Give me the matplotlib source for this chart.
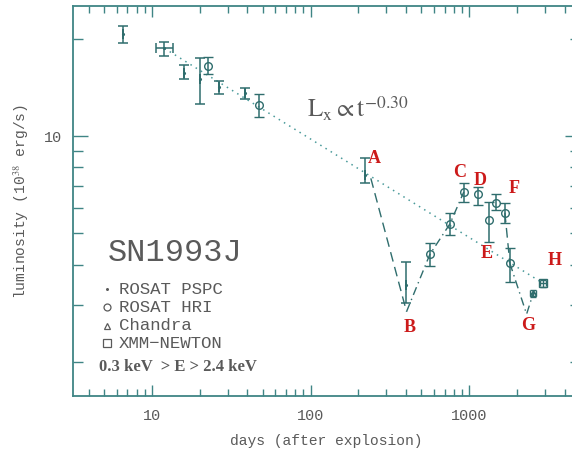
import matplotlib
matplotlib.use("Agg")
import matplotlib.pyplot as plt
from matplotlib.ticker import LogLocator, NullFormatter, FixedLocator, FixedFormatter

plt.rcParams['mathtext.fontset'] = 'stix'

# ---------------- data ----------------
# ROSAT PSPC points
pspc_days = [6.6, 12.0, 15.9, 20.0, 26.4, 38.5, 222, 401]
pspc_lum = [20.7, 18.7, 15.7, 15.0, 14.2, 13.6, 7.57, 3.45]
pspc_lo = [19.4, 17.7, 15.0, 12.6, 13.5, 13.0, 7.15, 3.04]
pspc_hi = [21.9, 19.6, 16.6, 17.4, 14.8, 14.1, 8.55, 4.08]
pspc_xlo = [6.6, 10.55, 15.9, 20.0, 26.4, 38.5, 222, 401]
pspc_xhi = [6.6, 13.5, 15.9, 20.0, 26.4, 38.5, 222, 401]

# ROSAT HRI points
hri_days = [22.5, 47.1, 565, 755, 926, 1140, 1331, 1473, 1680, 1806]
hri_lum = [16.5, 12.5, 4.30, 5.34, 6.72, 6.60, 5.50, 6.22, 5.79, 4.04]
hri_lo = [15.6, 11.45, 3.96, 4.94, 6.26, 6.11, 4.71, 5.90, 5.39, 3.54]
hri_hi = [17.6, 13.5, 4.66, 5.76, 7.15, 6.97, 6.26, 6.62, 6.19, 4.50]

# Chandra
chandra_days = [2535]
chandra_lum = [3.26]
chandra_lo = [3.18]
chandra_hi = [3.34]

# XMM-Newton
xmm_days = [2930]
xmm_lum = [3.50]
xmm_lo = [3.42]
xmm_hi = [3.58]

# power-law fit line  L ~ t^-0.30
fit_days = [12.0, 2930]
fit_lum = [18.7, 3.50]

# model connecting segments
seg1_days = [240, 403]
seg1_lum = [7.4, 2.86]
seg2_days = [403, 565, 755, 926]
seg2_lum = [2.86, 4.30, 5.34, 6.72]
seg3_days = [1680, 1806]
seg3_lum = [5.79, 4.04]
seg4_days = [1806, 2303, 2535]
seg4_lum = [4.04, 2.81, 3.26]

# labels
event_labels = ['A', 'B', 'C', 'D', 'E', 'F', 'G', 'H']
event_days = [254, 423, 873, 1168, 1294, 1915, 2346, 3474]
event_lum = [8.55, 2.56, 7.73, 7.31, 4.34, 6.90, 2.60, 4.13]

x_ticks = [10, 100, 1000]
x_ticklabels = ['10', '100', '1000']
y_ticks = [10]
y_ticklabels = ['10']

legend_names = ['ROSAT PSPC', 'ROSAT HRI', 'Chandra', 'XMM\u2212NEWTON']

# ---------------- style ----------------
teal = '#3f8585'
bar = '#2f6d6d'
grey = '#5a5a5a'
red = '#cc1a1a'
mono = 'Liberation Mono'

fig = plt.figure(figsize=(5.72, 4.5), dpi=100)
ax = fig.add_axes([73 / 572, 54 / 450, (580 - 73) / 572, (396 - 6) / 450])
ax.set_xscale('log')
ax.set_yscale('log')
ax.set_xlim(3.18, 5000)
ax.set_ylim(1.567, 25.3)

# fit line
ax.plot(fit_days, fit_lum, linestyle=(0, (1, 3)), color='#4a9a9a', lw=1.1, zorder=2)

# model segments
ax.plot(seg1_days, seg1_lum, linestyle=(0, (7, 4)), color=bar, lw=1.0, zorder=2)
ax.plot(seg2_days, seg2_lum, linestyle=(0, (6, 3, 1, 3)), color=bar, lw=1.0, zorder=2)
ax.plot(seg3_days, seg3_lum, linestyle=(0, (7, 4)), color=bar, lw=1.0, zorder=2)
ax.plot(seg4_days, seg4_lum, linestyle=(0, (6, 3, 1, 3)), color=bar, lw=1.0, zorder=2)


def errs(v, lo, hi):
    return [[a - b for a, b in zip(v, lo)], [c - a for a, c in zip(v, hi)]]


ax.errorbar(pspc_days, pspc_lum, yerr=errs(pspc_lum, pspc_lo, pspc_hi),
            xerr=errs(pspc_days, pspc_xlo, pspc_xhi),
            fmt='.', ms=2.5, color=bar, ecolor=bar, elinewidth=1.1, capsize=3.5, capthick=1.1, zorder=3)
ax.errorbar(hri_days, hri_lum, yerr=errs(hri_lum, hri_lo, hri_hi),
            fmt='o', ms=5.5, mfc='none', mec=bar, mew=1.0, color=bar, ecolor=bar,
            elinewidth=1.1, capsize=3.5, capthick=1.1, zorder=3)
ax.errorbar(chandra_days, chandra_lum, yerr=errs(chandra_lum, chandra_lo, chandra_hi),
            xerr=[[120], [120]],
            fmt='^', ms=4, mfc='none', mec=bar, color=bar, ecolor=bar, elinewidth=1.0, capsize=2, zorder=3)
ax.errorbar(xmm_days, xmm_lum, yerr=errs(xmm_lum, xmm_lo, xmm_hi), xerr=[[120], [120]],
            fmt='s', ms=6, mfc='none', mec=bar, color=bar, ecolor=bar, elinewidth=1.0, capsize=2, zorder=3)

for lab, dx, ly in zip(event_labels, event_days, event_lum):
    ax.text(dx, ly, lab, color=red, fontsize=13, fontweight='bold', family='Liberation Serif',
            ha='center', va='center', zorder=4)

# annotations
ax.text((307 - 73) / 507, 1 - (117 - 6) / 390, r'$\mathrm{L_x} \propto \mathrm{t}^{-0.30}$',
        transform=ax.transAxes, fontsize=18, color=grey, ha='left', va='baseline')
ax.text((108 - 73) / 507, 1 - (253 - 6) / 390, 'SN1993J', transform=ax.transAxes,
        fontsize=23, family=mono, color=grey, ha='left', va='center')

leg_y = [289, 307, 325.5, 343]
leg_mk = ['.', 'o', '^', 's']
leg_ms = [2.5, 5, 5, 5.5]
for name, yy, mk, ms in zip(legend_names, leg_y, leg_mk, leg_ms):
    fy = 1 - (yy - 6) / 390
    ax.plot([(107 - 73) / 507], [fy], marker=mk, ms=ms, mfc='none' if mk != '.' else grey,
            mec=grey, mew=0.9, transform=ax.transAxes, linestyle='none')
    ax.text((119 - 73) / 507, fy, name, transform=ax.transAxes, fontsize=12.5, family=mono,
            color=grey, ha='left', va='center')

ax.text((99 - 73) / 507, 1 - (367 - 6) / 390, '0.3 keV  > E > 2.4 keV', transform=ax.transAxes,
        fontsize=12, family='Liberation Serif', fontweight='bold', color=grey, ha='left', va='center')

# axes styling
for s in ax.spines.values():
    s.set_color(teal)
    s.set_linewidth(1.3)
ax.xaxis.set_major_locator(FixedLocator(x_ticks))
ax.xaxis.set_major_formatter(FixedFormatter(x_ticklabels))
ax.xaxis.set_minor_locator(LogLocator(base=10, subs=range(2, 10)))
ax.xaxis.set_minor_formatter(NullFormatter())
ax.yaxis.set_major_locator(FixedLocator(y_ticks))
ax.yaxis.set_major_formatter(FixedFormatter(y_ticklabels))
ax.yaxis.set_minor_locator(LogLocator(base=10, subs=range(2, 10)))
ax.yaxis.set_minor_formatter(NullFormatter())
ax.tick_params(axis='x', which='major', direction='in', length=8, width=1.0, color=teal,
               top=True, bottom=True, labelsize=11, labelcolor=grey, pad=9)
ax.tick_params(axis='x', which='minor', direction='in', length=5, width=1.0, color=teal,
               top=True, bottom=True)
ax.tick_params(axis='y', which='major', direction='in', length=11, width=1.0, color=teal,
               left=True, right=True, labelsize=11, labelcolor=grey, pad=8)
ax.tick_params(axis='y', which='minor', direction='in', length=7, width=1.0, color=teal,
               left=True, right=True)
for lbl in ax.get_xticklabels() + ax.get_yticklabels():
    lbl.set_family(mono)

ax.set_xlabel('days (after explosion)', fontsize=10.5, family=mono, color=grey, labelpad=8)
ax.set_ylabel('luminosity (10$^{38}$ erg/s)', fontsize=10.5, family=mono, color=grey, labelpad=9)

fig.savefig('out.png', dpi=100)
